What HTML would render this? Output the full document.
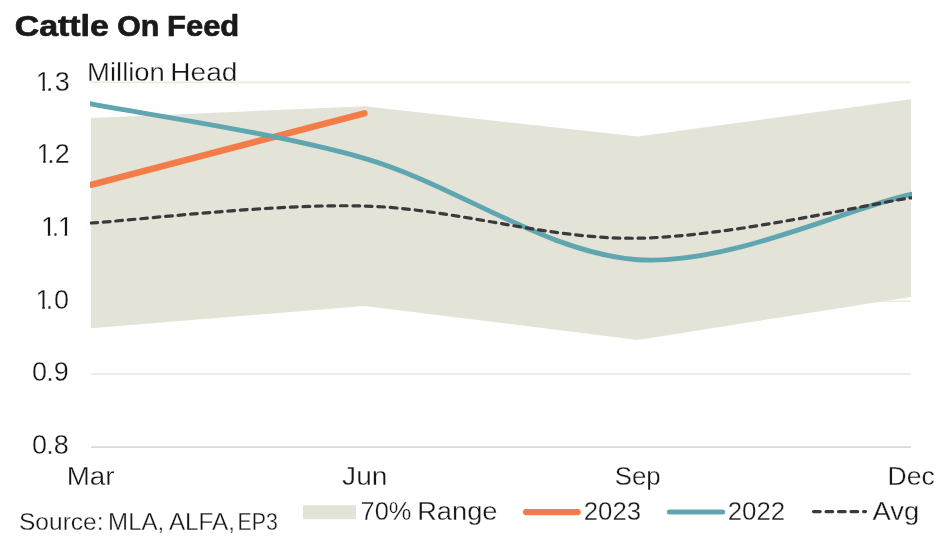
<!DOCTYPE html>
<html lang="en">
<head>
<meta charset="utf-8">
<title>Cattle On Feed</title>
<style>
html,body{margin:0;padding:0;background:#fff;}
body{width:949px;height:539px;overflow:hidden;font-family:"Liberation Sans", sans-serif;}
svg{display:block;}
text{font-family:"Liberation Sans", sans-serif;fill:#161616;}
.t{font-size:25px;stroke:#fff;stroke-width:0.3px;}
.title{font-size:29.7px;font-weight:700;fill:#1a1a1a;stroke:#1a1a1a;stroke-width:0.7px;stroke-linejoin:round;}
.src{font-size:23.3px;stroke:#fff;stroke-width:0.3px;}
</style>
</head>
<body>
<svg width="949" height="539" viewBox="0 0 949 539">
<defs><clipPath id="plot"><rect x="90" y="60" width="822" height="400"/></clipPath></defs>
<rect width="949" height="539" fill="#ffffff"/>
<text y="36.40" class="title"><tspan x="14.70" textLength="94.19" lengthAdjust="spacingAndGlyphs">Cattle</tspan> <tspan x="117.15" textLength="42.05" lengthAdjust="spacingAndGlyphs">On</tspan> <tspan x="167.04" textLength="72.25" lengthAdjust="spacingAndGlyphs">Feed</tspan></text>
<g>
<line x1="91" x2="911" y1="82.40" y2="82.40" stroke="#ebebe2" stroke-width="1.6"/>
<line x1="91" x2="911" y1="155.30" y2="155.30" stroke="#ebebe2" stroke-width="1.6"/>
<line x1="91" x2="911" y1="228.30" y2="228.30" stroke="#ebebe2" stroke-width="1.6"/>
<line x1="91" x2="911" y1="301.20" y2="301.20" stroke="#ebebe2" stroke-width="1.6"/>
<line x1="91" x2="911" y1="374.10" y2="374.10" stroke="#ebebe2" stroke-width="1.6"/>
<line x1="91" x2="911" y1="447.07" y2="447.07" stroke="#d9d9d9" stroke-width="1.8"/>
</g>
<path d="M91.00,118.10 L364.33,106.25 L637.67,136.56 L911.00,99.15 L911.00,296.90 L637.67,339.90 L364.33,306.10 L91.00,328.14 Z" fill="#e3e3d8"/>
<g clip-path="url(#plot)" fill="none">
<path d="M91,184.8 L364.333,113.3" stroke="#f47c48" stroke-width="6.5" stroke-linecap="round"/>
<path d="M91.00,103.85 C136.56,112.92 273.22,132.33 364.33,158.30 C455.44,184.28 546.56,253.67 637.67,259.70 C728.78,265.73 848.50,207.50 911.00,194.50" stroke="#5fa6b0" stroke-width="4.9" stroke-linecap="square"/>
<path d="M91.00,223.00 C136.56,220.17 273.22,203.47 364.33,206.00 C455.44,208.53 546.56,239.57 637.67,238.20 C728.78,236.83 865.44,204.53 911.00,197.80" stroke="#3a3a3c" stroke-width="3.2" stroke-dasharray="6.7 5.8" stroke-dashoffset="0" stroke-linecap="round"/>
</g>
<text y="81.00" class="t"><tspan x="87.14" textLength="77.71" lengthAdjust="spacingAndGlyphs">Million</tspan> <tspan x="170.33" textLength="67.10" lengthAdjust="spacingAndGlyphs">Head</tspan></text>
<g>
<clipPath id="c13"><path clip-rule="evenodd" d="M0,60.5 H100 V100.5 H0 Z M36.78,87.58 H42.46 V92.00 H36.78 Z M44.95,87.58 H48.32 V92.00 H44.95 Z"/></clipPath><text x="35.72 46.00 54.82" y="90.50" class="t" style="font-size:27px" clip-path="url(#c13)">1.3</text>
<clipPath id="c12"><path clip-rule="evenodd" d="M0,132.6 H100 V172.6 H0 Z M37.48,159.68 H43.16 V164.10 H37.48 Z M45.65,159.68 H49.62 V164.10 H45.65 Z"/></clipPath><text x="36.42 47.30 54.69" y="162.60" class="t" style="font-size:27px" clip-path="url(#c12)">1.2</text>
<clipPath id="c11"><path clip-rule="evenodd" d="M0,205.6 H100 V245.6 H0 Z M42.18,232.68 H47.86 V237.10 H42.18 Z M50.35,232.68 H54.12 V237.10 H50.35 Z M58.98,232.68 H64.66 V237.10 H58.98 Z M67.15,232.68 H72.62 V237.10 H67.15 Z"/></clipPath><text x="41.12 51.80 57.92" y="235.60" class="t" style="font-size:27px" clip-path="url(#c11)">1.1</text>
<clipPath id="c10"><path clip-rule="evenodd" d="M0,278.5 H100 V318.5 H0 Z M36.58,305.58 H42.26 V310.00 H36.58 Z M44.75,305.58 H48.07 V310.00 H44.75 Z"/></clipPath><text x="35.52 45.75 53.99" y="308.50" class="t" style="font-size:27px" clip-path="url(#c10)">1.0</text>
<text x="31.94 46.20 53.75" y="381.40" class="t" style="font-size:27px">0.9</text>
<text x="31.94 46.20 53.84" y="454.37" class="t" style="font-size:27px">0.8</text>
</g>
<g>
<text y="485.00" class="t"><tspan x="66.69" textLength="47.74" lengthAdjust="spacingAndGlyphs">Mar</tspan></text>
<text y="485.00" class="t"><tspan x="342.13" textLength="45.33" lengthAdjust="spacingAndGlyphs">Jun</tspan></text>
<text y="485.00" class="t"><tspan x="614.74" textLength="45.95" lengthAdjust="spacingAndGlyphs">Sep</tspan></text>
<text y="485.00" class="t"><tspan x="887.56" textLength="47.17" lengthAdjust="spacingAndGlyphs">Dec</tspan></text>
</g>
<text y="530.10" class="src"><tspan x="18.99" textLength="84.60" lengthAdjust="spacingAndGlyphs">Source:</tspan> <tspan x="108.13" textLength="56.11" lengthAdjust="spacingAndGlyphs">MLA,</tspan> <tspan x="168.91" textLength="66.15" lengthAdjust="spacingAndGlyphs">ALFA,</tspan> <tspan x="237.44" textLength="40.34" lengthAdjust="spacingAndGlyphs">EP3</tspan></text>
<g>
<rect x="303" y="505.2" width="53" height="14" fill="#e3e3d8"/>
<line x1="526" x2="577.7" y1="512.1" y2="512.1" stroke="#f47c48" stroke-width="6.3" stroke-linecap="round"/>
<line x1="669.3" x2="722.7" y1="511.9" y2="511.9" stroke="#5fa6b0" stroke-width="5.0" stroke-linecap="round"/>
<line x1="813.5" x2="865.5" y1="511.6" y2="511.6" stroke="#3a3a3c" stroke-width="3.1" stroke-dasharray="6.7 5.8" stroke-linecap="round"/>
<text y="520.00" class="t"><tspan x="360.56" textLength="50.83" lengthAdjust="spacingAndGlyphs">70%</tspan> <tspan x="417.18" textLength="80.27" lengthAdjust="spacingAndGlyphs">Range</tspan></text>
<text y="520.00" class="t"><tspan x="583.75" textLength="57.31" lengthAdjust="spacingAndGlyphs">2023</tspan></text>
<text y="520.00" class="t"><tspan x="727.71" textLength="57.51" lengthAdjust="spacingAndGlyphs">2022</tspan></text>
<text y="520.00" class="t"><tspan x="872.43" textLength="46.76" lengthAdjust="spacingAndGlyphs">Avg</tspan></text>
</g>
</svg>
</body>
</html>
